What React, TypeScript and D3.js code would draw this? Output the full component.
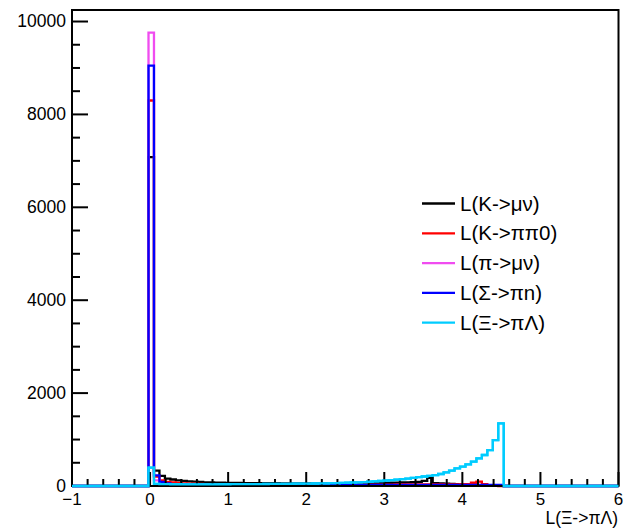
import React from "react";
import * as d3 from "d3";

// Histogram binning: 100 bins from -1 to 6; arrays below start at bin FIRST_BIN
const X_MIN = -1;
const X_MAX = 6;
const N_BINS = 100;
const FIRST_BIN = 14;

const kMuNu = [7080, 330, 220, 160, 140, 120, 110, 100, 95, 88, 80, 76, 73, 70, 68, 66, 65, 64, 63, 62, 61, 60, 60, 59, 58, 58, 57, 57, 56, 56, 56, 56, 57, 57, 58, 58, 59, 60, 61, 62, 63, 64, 66, 68, 70, 72, 75, 80, 85, 90, 110, 175, 60, 55, 50, 45, 40, 35, 30, 25, 20, 15, 10, 5, 2];
const kPiPi0 = [8300, 200, 120, 90, 75, 65, 58, 52, 48, 44, 40, 38, 36, 34, 33, 32, 31, 30, 30, 29, 29, 28, 28, 28, 27, 27, 27, 27, 27, 27, 27, 27, 27, 28, 28, 28, 28, 29, 29, 29, 30, 30, 30, 31, 31, 32, 32, 33, 33, 34, 34, 35, 35, 35, 36, 36, 37, 38, 40, 70, 95, 40, 10, 3, 0];
const piMuNu = [9760, 120, 60, 40, 30, 25, 22, 20, 18, 16, 15, 14, 14, 13, 13, 12, 12, 12, 11, 11, 11, 10, 10, 10, 10, 10, 10, 10, 10, 10, 10, 10, 10, 10, 10, 10, 10, 10, 10, 10, 10, 10, 10, 10, 10, 10, 10, 10, 10, 10, 10, 10, 10, 10, 10, 10, 10, 10, 10, 10, 10, 10, 10, 10, 10];
const sigmaPiN = [9050, 230, 90, 55, 42, 36, 32, 30, 28, 27, 26, 25, 24, 24, 23, 23, 22, 22, 22, 22, 22, 22, 22, 22, 22, 22, 22, 22, 22, 22, 22, 22, 22, 22, 22, 22, 22, 22, 22, 22, 22, 22, 22, 22, 22, 22, 22, 22, 22, 22, 22, 22, 22, 22, 22, 22, 22, 22, 22, 22, 22, 22, 22, 22, 22];
const xiPiLambda = [394, 45, 40, 40, 38, 38, 37, 37, 36, 36, 36, 37, 37, 38, 38, 39, 40, 40, 41, 42, 42, 43, 44, 45, 46, 47, 48, 49, 50, 52, 54, 56, 58, 60, 62, 66, 70, 75, 80, 85, 92, 100, 108, 118, 128, 138, 148, 160, 175, 190, 205, 220, 235, 258, 294, 330, 380, 416, 466, 523, 595, 667, 774, 989, 1348];

const seriesNames = ["L(K->\u03bc\u03bd)", "L(K->\u03c0\u03c00)", "L(\u03c0->\u03bc\u03bd)", "L(\u03a3->\u03c0n)", "L(\u039e->\u03c0\u039b)"];
const seriesColors = ["#000000", "#ff0000", "#f04cf0", "#0000ff", "#00ccff"];
const seriesData = [kMuNu, kPiPi0, piMuNu, sigmaPiN, xiPiLambda];

const xTicks = [-1, 0, 1, 2, 3, 4, 5, 6];
const yTicks = [0, 2000, 4000, 6000, 8000, 10000];
const xTitle = "L(\u039e->\u03c0\u039b)";

const W = 623;
const H = 529;
const M = { left: 72, right: 4.5, top: 10, bottom: 43 };
const FONT = "'Liberation Sans', Arial, Helvetica, sans-serif";

export default function App() {
  const yMaxData = d3.max(seriesData.flat()) as number;
  const x = d3.scaleLinear().domain([X_MIN, X_MAX]).range([M.left, W - M.right]);
  const y = d3.scaleLinear().domain([0, yMaxData * 1.05]).range([H - M.bottom, M.top]);
  const bw = (X_MAX - X_MIN) / N_BINS;

  const line = d3.line<[number, number]>().x((d) => x(d[0])).y((d) => y(d[1]));

  const pathFor = (vals: number[]) => {
    const full: number[] = [];
    for (let i = 0; i < N_BINS; i++) {
      const k = i - FIRST_BIN;
      full.push(k >= 0 && k < vals.length ? vals[k] : 0);
    }
    const pts: [number, number][] = [[X_MIN, 0]];
    full.forEach((v, i) => {
      pts.push([X_MIN + i * bw, v]);
      pts.push([X_MIN + (i + 1) * bw, v]);
    });
    pts.push([X_MAX, 0]);
    return line(pts) as string;
  };

  const xMinor = d3.range(X_MIN, X_MAX + 1e-9, 0.2).filter((v) => Math.abs(v - Math.round(v)) > 1e-6);
  const yMinor = d3.range(0, y.domain()[1], 500).filter((v) => v % 2000 !== 0);

  const y0 = y(0);
  const legendX = 422;
  const legendY0 = 203.5;
  const legendDy = 29.8;

  return (
    <svg width={W} height={H} style={{ position: "absolute", left: 0, top: 0, background: "#fff" }} fontFamily={FONT}>
      <rect x={0} y={0} width={W} height={H} fill="#fff" />
      {/* histograms */}
      {seriesData.map((vals, i) => (
        <path key={i} d={pathFor(vals)} fill="none" stroke={seriesColors[i]} strokeWidth={2.3} strokeLinejoin="miter" />
      ))}
      {/* frame */}
      <rect x={M.left} y={M.top} width={W - M.right - M.left} height={y0 - M.top} fill="none" stroke="#000" strokeWidth={2} />
      {/* y axis ticks */}
      {yTicks.map((t) => (
        <g key={"y" + t}>
          <line x1={M.left} x2={M.left + 16} y1={y(t)} y2={y(t)} stroke="#000" strokeWidth={2} />
          <text x={M.left - 6} y={y(t)} dy="0.33em" textAnchor="end" fontSize={17.5}>{t}</text>
        </g>
      ))}
      {yMinor.map((t) => (
        <line key={"ym" + t} x1={M.left} x2={M.left + 8} y1={y(t)} y2={y(t)} stroke="#000" strokeWidth={2} />
      ))}
      {/* x axis ticks */}
      {xTicks.map((t) => (
        <g key={"x" + t}>
          <line x1={x(t)} x2={x(t)} y1={y0} y2={y0 - 14} stroke="#000" strokeWidth={2} />
          <text x={x(t)} y={y0 + 19} textAnchor="middle" fontSize={17}>{t < 0 ? "\u2212" + Math.abs(t) : t}</text>
        </g>
      ))}
      {xMinor.map((t) => (
        <line key={"xm" + t.toFixed(2)} x1={x(t)} x2={x(t)} y1={y0} y2={y0 - 7} stroke="#000" strokeWidth={2} />
      ))}
      {/* redraw cyan zero line over the axis */}
      <path d={pathFor(xiPiLambda)} fill="none" stroke={seriesColors[4]} strokeWidth={2.3} />
      {/* x title */}
      <text x={W - 5} y={H - 5} textAnchor="end" fontSize={17.5}>{xTitle}</text>
      {/* legend */}
      {seriesNames.map((n, i) => (
        <g key={"l" + i}>
          <line x1={legendX} x2={legendX + 33} y1={legendY0 + i * legendDy} y2={legendY0 + i * legendDy} stroke={seriesColors[i]} strokeWidth={2.3} />
          <text x={legendX + 38} y={legendY0 + i * legendDy} dy="0.35em" fontSize={20.5}>{n}</text>
        </g>
      ))}
    </svg>
  );
}
